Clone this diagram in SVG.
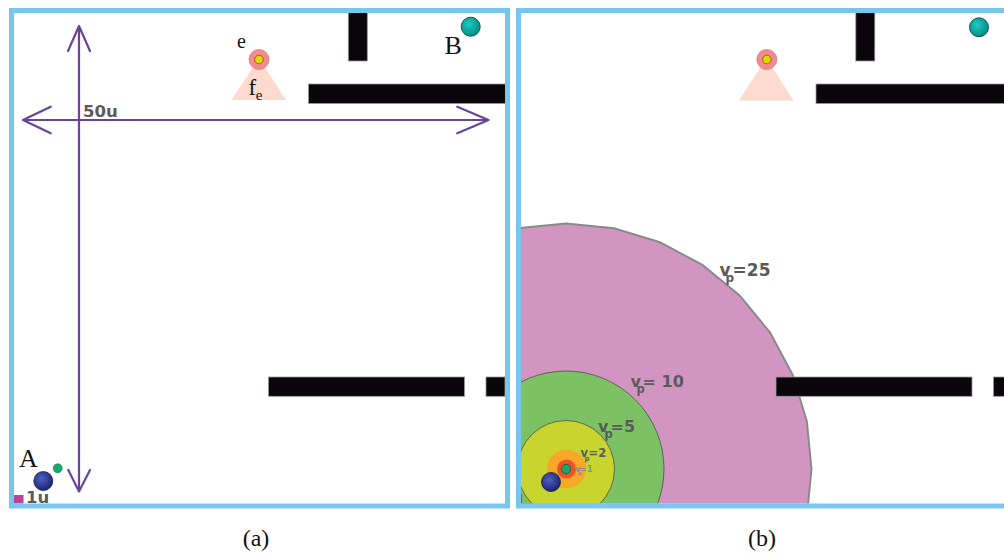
<svg xmlns="http://www.w3.org/2000/svg" width="1004" height="554" viewBox="0 0 1004 554">
<style>
.frame{fill:none;stroke:#78c6ee;stroke-width:5}
.wall{fill:#0b060c;stroke:#9a9a9a;stroke-width:0.8}
.arrow{fill:none;stroke:#6b4399;stroke-width:2.2;stroke-linecap:round;stroke-linejoin:round}
.serif{font-family:"Liberation Serif","Times New Roman",serif;fill:#111}
.lbl{font-family:"DejaVu Sans",Verdana,sans-serif;font-weight:bold;fill:#5a5a5a}
.lbl1{fill:#8c8c8c}
.fov{fill:#fcdacd}
.sens{fill:#f28a90;stroke:#e8787e;stroke-width:0.8}
.sensin{fill:#e6d400;stroke:#6b5a00;stroke-width:0.8}
.ring{stroke:#4d4d4d;stroke-width:0.8}
</style>
<defs>
<radialGradient id="gBlue" cx="0.4" cy="0.38" r="0.65">
<stop offset="0" stop-color="#4f5fc0"/>
<stop offset="1" stop-color="#1b2270"/>
</radialGradient>
<radialGradient id="gTeal" cx="0.4" cy="0.38" r="0.65">
<stop offset="0" stop-color="#22c9c4"/>
<stop offset="1" stop-color="#008a80"/>
</radialGradient>
<clipPath id="clipB"><rect x="520.5" y="13" width="490" height="490.5"/></clipPath>
</defs>
<rect width="1004" height="554" fill="#ffffff"/>

<g id="panel-a">
<g id="walls-a">
<rect class="wall" x="348.3" y="12" width="19" height="49"/>
<rect class="wall" x="308.5" y="84" width="197" height="19.5"/>
<rect class="wall" x="268.5" y="377" width="196" height="19.3"/>
<rect class="wall" x="486" y="377" width="19" height="19.3"/>
</g>
<g id="sensor-a">
<polygon class="fov" points="259,58 231.5,100 286,100"/>
<circle class="sens" cx="259" cy="59.5" r="10"/>
<circle class="sensin" cx="259" cy="59.5" r="4.3"/>
<text class="serif" x="237" y="47.5" font-size="20">e</text>
<text class="serif" x="248.5" y="94.5" font-size="23">f<tspan dx="-0.5" dy="5" font-size="15">e</tspan></text>
</g>
<g id="goal-B-a">
<circle cx="470.7" cy="26.7" r="9.5" fill="url(#gTeal)" stroke="#0c5a55" stroke-width="1"/>
<text class="serif" x="444.5" y="54" font-size="26">B</text>
</g>
<g id="robot-A-a">
<circle cx="43.3" cy="481" r="9.5" fill="url(#gBlue)" stroke="#151a55" stroke-width="0.8"/>
<circle cx="57.7" cy="468.3" r="4.5" fill="#1ba86b" stroke="#0e7a4a" stroke-width="0.6"/>
<text class="serif" x="19" y="466.7" font-size="26">A</text>
</g>
<g id="scale-a">
<g id="connectors">
<path class="arrow" d="M79,26 V491.5 M68,51 L79,26 L90,51 M68.3,470 L79,491.5 L90,470"/>
<path class="arrow" d="M23,120 H488.5 M50.7,106.7 L23,120 L50.7,133.3 M457.3,106.8 L488.5,120 L457.3,133.2"/>
</g>
<text class="lbl" x="83" y="116.7" font-size="16.5">50u</text>
<rect x="13.5" y="495" width="10" height="8.5" fill="#b9449a"/>
<text class="lbl" x="26" y="502.7" font-size="16.5">1u</text>
</g>
<rect class="frame" x="11.5" y="10.5" width="496" height="495.5"/>
</g>

<g id="panel-b">
<g id="reach-sets" clip-path="url(#clipB)">
<polygon fill="#d295c1" stroke="#8a8a8a" stroke-width="2" points="566,223.5 613.9,228.2 659.9,242.2 702.4,264.9 739.6,295.4 770.1,332.6 792.8,375.1 806.8,421.1 811.5,469 806.8,516.9 792.8,562.9 566,714.5 339.2,562.9 325.2,516.9 320.5,469 325.2,421.1 339.2,375.1 361.9,332.6 392.4,295.4 429.6,264.9 472.1,242.2 518.1,228.2"/>
<circle class="ring" cx="566" cy="469" r="98" fill="#7cc163"/>
<circle class="ring" cx="566" cy="469" r="48.5" fill="#c8d52f"/>
<path d="M521.5,494 V503.5 H531" fill="none" stroke="#b9449a" stroke-width="1.2"/>
<circle cx="566.5" cy="469" r="19.5" fill="#f6a826"/>
<circle cx="566.5" cy="469" r="9.5" fill="#ef512b"/>
</g>
<g id="walls-b">
<rect class="wall" x="855.8" y="12" width="19" height="49"/>
<rect class="wall" x="816" y="84" width="200" height="19.5"/>
<rect class="wall" x="776" y="377" width="196" height="19.3"/>
<rect class="wall" x="993.5" y="377" width="19" height="19.3"/>
</g>
<g id="sensor-b">
<polygon class="fov" points="766.5,58 739,100.5 793.5,100.5"/>
<circle class="sens" cx="766.8" cy="59.5" r="10"/>
<circle class="sensin" cx="766.8" cy="59.5" r="4.3"/>
</g>
<g id="goal-B-b">
<circle cx="979" cy="27.3" r="9.5" fill="url(#gTeal)" stroke="#0c5a55" stroke-width="1"/>
</g>
<g id="robot-A-b">
<circle cx="551" cy="482" r="9.5" fill="url(#gBlue)" stroke="#151a55" stroke-width="0.8"/>
<circle cx="566" cy="469" r="4.7" fill="#1ba86b" stroke="#0e5a3a" stroke-width="0.8"/>
</g>
<g id="reach-labels">
<text class="lbl" x="719.5" y="275.7" font-size="17">v<tspan dx="-5" dy="6.3" font-size="12">p</tspan><tspan dx="-1.6" dy="-6.3">=25</tspan></text>
<text class="lbl" x="630.5" y="386.7" font-size="16">v<tspan dx="-4.4" dy="6.3" font-size="11.5">p</tspan><tspan dx="-2.2" dy="-6.3">= 10</tspan></text>
<text class="lbl" x="598" y="431.7" font-size="16">v<tspan dx="-3.9" dy="6.3" font-size="11.5">p</tspan><tspan dx="-2.2" dy="-6.3">=5</tspan></text>
<text class="lbl" x="580.5" y="456.7" font-size="11.5">v<tspan dx="-3.5" dy="4.3" font-size="7">p</tspan><tspan dx="-1" dy="-4.3">=2</tspan></text>
<text class="lbl lbl1" x="575" y="471.7" font-size="8.5">v<tspan dx="-2.5" dy="2.8" font-size="5">p</tspan><tspan dx="-2.1" dy="-2.8">=1</tspan></text>
</g>
<rect class="frame" x="518.5" y="10.5" width="496" height="495.5"/>
</g>

<g id="captions">
<text class="serif" x="256" y="546" font-size="24" text-anchor="middle">(a)</text>
<text class="serif" x="762" y="546" font-size="24" text-anchor="middle">(b)</text>
</g>
</svg>
